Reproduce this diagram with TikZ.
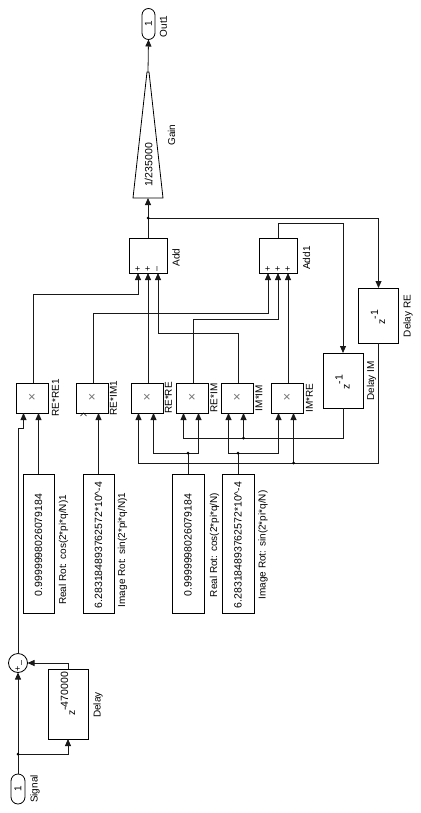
\documentclass[tikz,border=0pt]{standalone}
\usepackage{fontspec}
\setmainfont{Liberation Sans}
\usetikzlibrary{arrows.meta}
\begin{document}
\begin{tikzpicture}[x=1pt,y=-1pt,
  wire/.style={line width=0.8pt, draw=black!90},
  sig/.style={wire,-{Triangle[length=7pt,width=6pt]}},
  blk/.style={draw=black, line width=0.8pt, fill=white, inner sep=0pt, outer sep=0pt},
  mul/.style={blk, minimum width=32pt, minimum height=30pt},
  cst/.style={blk, minimum width=31pt, minimum height=139pt},
  dblk/.style={blk, minimum width=40pt, minimum height=55pt},
  port/.style={blk, rounded corners=6.5pt, minimum width=13pt, minimum height=31pt},
  lbl/.style={rotate=90, inner sep=0pt, text depth=0pt, font=\fontsize{10}{10}\selectfont},
  val/.style={rotate=90, inner sep=0pt, text depth=0pt, font=\fontsize{10.5}{10.5}\selectfont},
  crs/.style={inner sep=0pt, text=black!55, font=\fontsize{13}{13}\selectfont},
  dot/.style={circle, fill=black, inner sep=0pt, minimum size=3pt}
]
\useasboundingbox (0,0) rectangle (420,813);
\fill[white] (0,0) rectangle (420,813);

% ---------------- ports, sum, delay ----------------
\node[port, minimum width=14pt, minimum height=30pt, rounded corners=7pt] (in) at (18,789) {};
\node[lbl] (in-t) at (18,789) {1};
\node[lbl] (in-l) at (34,789) {Signal};
\node[blk, circle, minimum size=19pt] (sum) at (18,663) {};
\node[lbl, font=\fontsize{9}{9}\selectfont] (sum-p) at (18,669) {+};
\node[lbl, font=\fontsize{9}{9}\selectfont] (sum-m) at (22.5,663) {--};
\node[blk, minimum width=40pt, minimum height=70pt] (dly) at (68,704) {};
\node[val] (dly-t) at (68,694) {z\raisebox{7pt}{-470000}};
\node[lbl] (dly-l) at (97,705) {Delay};

\coordinate (b1) at (18,754);
\draw[sig] (in.north) -- (sum.south);
\draw[sig] (b1) -| (dly.south);
\draw[sig] (dly.north) |- (sum.east);
\node[dot] (b1d) at (b1) {};

% ---------------- multipliers ----------------
\node[mul] (rere1) at (32,398) {};
\node[mul] (reim1) at (92,398) {};
\node[mul] (rere)  at (147,398) {};
\node[mul] (reim)  at (192,398) {};
\node[mul] (imim)  at (237,398) {};
\node[mul] (imre)  at (287,398) {};
\foreach \n in {rere1,reim1,rere,reim,imim,imre}{
  \node[crs] (\n-x) at (\n) {×};
}
\node[lbl] (rere1-l) at (55.5,398) {RE*RE1};
\node[lbl] (reim1-l) at (113.5,398) {RE*IM1};
\node[lbl] (rere-l)  at (168.5,398) {RE*RE};
\node[lbl] (reim-l)  at (214,398) {RE*IM};
\node[lbl] (imim-l)  at (259,398) {IM*IM};
\node[lbl] (imre-l)  at (309.5,398) {IM*RE};

\coordinate (rere1-i1) at (23.5,413); \coordinate (rere1-i2) at (38.5,413); \coordinate (rere1-o) at (33,383);
\coordinate (reim1-i1) at (83.5,413); \coordinate (reim1-i2) at (98.5,413); \coordinate (reim1-o) at (93,383);
\coordinate (rere-i1) at (138.5,413); \coordinate (rere-i2) at (153.5,413); \coordinate (rere-o) at (148,383);
\coordinate (reim-i1) at (183.5,413); \coordinate (reim-i2) at (198.5,413); \coordinate (reim-o) at (193,383);
\coordinate (imim-i1) at (228.5,413); \coordinate (imim-i2) at (243.5,413); \coordinate (imim-o) at (238,383);
\coordinate (imre-i1) at (278.5,413); \coordinate (imre-i2) at (293.5,413); \coordinate (imre-o) at (288,383);

% unconnected input mark
\draw[line width=0.6pt] (80.5,416) -- (reim1-i1) -- (86.5,416);

% ---------------- constants ----------------
\node[cst] (c1) at (38.5,543.5) {};
\node[cst] (c2) at (98.5,543.5) {};
\node[cst, minimum width=32pt] (c3) at (188,543.5) {};
\node[cst, minimum width=32pt] (c4) at (238,543.5) {};
\node[val] (c1-t) at (38.5,545) {0.9999998026079184};
\node[val] (c2-t) at (98.5,545) {6.283184893762572*10\^{}-4};
\node[val] (c3-t) at (188,545) {0.9999998026079184};
\node[val] (c4-t) at (238,545) {6.283184893762572*10\^{}-4};
\node[lbl] (c1-l) at (62.5,550) {Real Rot: cos(2*pi*q/N)1};
\node[lbl] (c2-l) at (121.5,550) {Image Rot: sin(2*pi*q/N)1};
\node[lbl] (c3-l) at (213.5,545) {Real Rot: cos(2*pi*q/N)};
\node[lbl] (c4-l) at (262,545) {Image Rot: sin(2*pi*q/N)};

% sum output to RE*RE1
\coordinate (j1) at (18,428);
\draw[sig] (sum.north) -- (j1) -| (rere1-i1);
\draw[sig] (c1.north) -- (rere1-i2);
\draw[sig] (c2.north) -- (reim1-i2);

\coordinate (b3) at (188,453);
\coordinate (b4) at (238,453);
\draw[wire] (c3.north) -- (b3);
\draw[sig] (b3) -| (rere-i2);
\draw[sig] (b3) -| (reim-i2);
\draw[wire] (c4.north) -- (b4);
\draw[sig] (b4) -| (imim-i1);
\draw[sig] (b4) -| (imre-i1);
\node[dot] (b3d) at (b3) {};
\node[dot] (b4d) at (b4) {};

% ---------------- delays ----------------
\node[dblk] (dim) at (343,380.5) {};
\node[dblk] (dre) at (378.5,315.5) {};
\node[val] (dim-t) at (342.5,382) {z\raisebox{7pt}{-1}};
\node[val] (dre-t) at (378,317) {z\raisebox{7pt}{-1}};
\node[lbl] (dim-l) at (370.5,381) {Delay IM};
\node[lbl] (dre-l) at (407,316) {Delay RE};

\coordinate (bim) at (243.5,438);
\coordinate (bre) at (293.5,463);
\draw[sig] (dim.south) -- (343,438) -| (reim-i1);
\draw[sig] (bim) -- (imim-i2);
\draw[sig] (dre.south) -- (378.5,463) -| (rere-i1);
\draw[sig] (bre) -- (imre-i2);
\node[dot] (bimd) at (bim) {};
\node[dot] (bred) at (bre) {};

% ---------------- adders ----------------
\node[blk, minimum width=38pt, minimum height=35pt] (add) at (148,255.5) {};
\node[blk, minimum width=38pt, minimum height=35pt] (add1) at (278,255.5) {};
\node[lbl] (add-l) at (176,257.5) {Add};
\node[lbl] (add1-l) at (306.5,258) {Add1};
\coordinate (add-i1) at (138,273); \coordinate (add-i2) at (148,273); \coordinate (add-i3) at (158,273);
\coordinate (add1-i1) at (268,273); \coordinate (add1-i2) at (278,273); \coordinate (add1-i3) at (288,273);
\node[lbl, font=\fontsize{9}{9}\selectfont] (add-s1) at (138,268.5) {+};
\node[lbl, font=\fontsize{9}{9}\selectfont] (add-s2) at (148,268.5) {+};
\node[lbl, font=\fontsize{9}{9}\selectfont] (add-s3) at (158,268.5) {--};
\node[lbl, font=\fontsize{9}{9}\selectfont] (add1-s1) at (268,268.5) {+};
\node[lbl, font=\fontsize{9}{9}\selectfont] (add1-s2) at (278,268.5) {+};
\node[lbl, font=\fontsize{9}{9}\selectfont] (add1-s3) at (288,268.5) {+};

\draw[sig] (rere1-o) -- (33,294) -| (add-i1);
\draw[sig] (rere-o) -- (add-i2);
\draw[sig] (imim-o) -- (238,333) -| (add-i3);
\draw[sig] (reim1-o) -- (93,313) -| (add1-i1);
\draw[sig] (reim-o) -- (193,319) -| (add1-i2);
\draw[sig] (imre-o) -- (add1-i3);

% ---------------- gain and output ----------------
\coordinate (gain-i) at (148,198);
\coordinate (gain-o) at (148,72);
\draw[line width=0.8pt] (133,198) -- (163,198) -- (149,72) -- (147,72) -- cycle;
\node[val] (gain-t) at (148.5,165) {1/235000};
\node[lbl] (gain-l) at (171.5,135) {Gain};

\node[port] (out) at (148.5,24) {};
\node[lbl] (out-t) at (148.5,24) {1};
\node[lbl] (out-l) at (163.5,26.5) {Out1};

\coordinate (ba) at (148,218);
\draw[sig] (add.north) -- (gain-i);
\draw[sig] (ba) -| (dre.north);
\draw[sig] (add1.north) -- (278,223) -| (dim.north);
\draw[sig] (gain-o) -- (out.south);
\node[dot] (bad) at (ba) {};
\end{tikzpicture}
\end{document}
